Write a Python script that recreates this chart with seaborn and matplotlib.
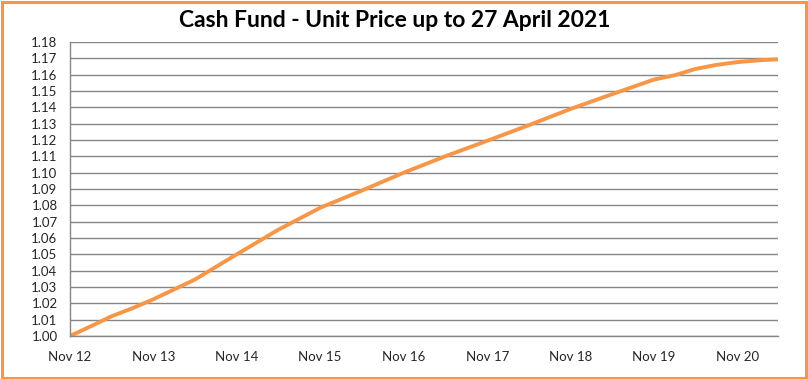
import pandas as pd
import matplotlib
matplotlib.use("Agg")
import matplotlib.pyplot as plt
import matplotlib.dates as mdates
from matplotlib.patches import Rectangle
from matplotlib.ticker import MultipleLocator, FormatStrFormatter
import seaborn as sns

# unit price
dates = ["2012-11-01", "2013-02-01", "2013-05-01", "2013-08-01", "2013-11-01",
         "2014-05-01", "2014-11-01", "2015-05-01", "2015-11-01", "2016-05-01",
         "2016-11-01", "2017-05-01", "2017-11-01", "2018-05-01", "2018-11-01",
         "2019-05-01", "2019-11-01", "2020-02-01", "2020-05-01", "2020-08-01",
         "2020-11-01", "2021-02-01", "2021-04-27"]
prices = [1.000, 1.006, 1.012, 1.017, 1.0225,
          1.0345, 1.050, 1.065, 1.0785, 1.089,
          1.100, 1.110, 1.1195, 1.129, 1.139,
          1.148, 1.157, 1.1597, 1.1635, 1.1660,
          1.1677, 1.1688, 1.1694]
title = "Cash Fund - Unit Price up to 27 April 2021"

df = pd.DataFrame({"date": pd.to_datetime(dates), "price": prices})

sns.set_style("white")
plt.rcParams['font.family'] = ['Lato', 'DejaVu Sans']

orange = "#F79646"
grey = "#868686"

fig = plt.figure(figsize=(8.08, 3.79), dpi=100)
ax = fig.add_axes([70/808, 1 - 336/379, 708/808, 294/379])

sns.lineplot(data=df, x="date", y="price", ax=ax, color=orange, linewidth=2.8)

ax.set_ylim(1.00, 1.18)
ax.yaxis.set_major_locator(MultipleLocator(0.01))
ax.yaxis.set_major_formatter(FormatStrFormatter("%.2f"))
ax.set_xlim(pd.Timestamp("2012-11-01"), pd.Timestamp("2021-04-27"))
ax.xaxis.set_major_locator(mdates.MonthLocator(bymonth=11))
ax.xaxis.set_major_formatter(mdates.DateFormatter("%b %y"))

ax.grid(axis="y", color=grey, linewidth=1)
ax.set_axisbelow(True)
for s in ["top", "right"]:
    ax.spines[s].set_visible(False)
for s in ["left", "bottom"]:
    ax.spines[s].set_color(grey)
    ax.spines[s].set_linewidth(1)
ax.tick_params(axis="both", direction="out", length=5, width=1, color=grey,
               labelsize=9.5, labelcolor="#262626")
ax.tick_params(axis="x", pad=6)
ax.tick_params(axis="y", pad=4)
ax.set_xlabel("")
ax.set_ylabel("")

fig.text(0.488, 0.945, title, ha="center", va="center",
         fontsize=16.5, fontweight="bold", color="black")

fig.patches.append(Rectangle((0.002, 0.003), 0.995, 0.993, transform=fig.transFigure,
                             fill=False, edgecolor=orange, linewidth=2.2))

fig.savefig("out.png", dpi=100)
